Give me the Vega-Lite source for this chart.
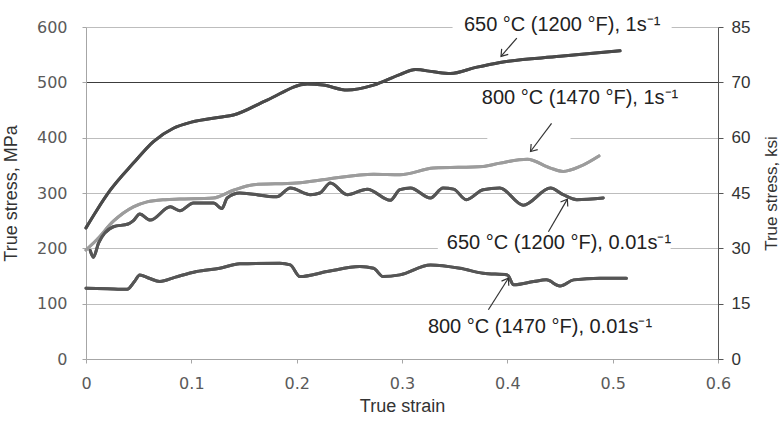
{
  "$schema": "https://vega.github.io/schema/vega-lite/v6.json",
  "width": 632,
  "height": 332,
  "autosize": "none",
  "padding": {"left": 86, "top": 27, "right": 66, "bottom": 64},
  "background": "white",
  "config": {
    "view": {"stroke": null},
    "axis": {
      "labelFont": "DejaVu Sans",
      "labelFontSize": 16,
      "labelColor": "#5a5a5a",
      "titleFont": "Liberation Sans",
      "titleFontSize": 18,
      "titleColor": "#333333",
      "titleFontWeight": "normal",
      "domainColor": "#a6a6a6",
      "tickColor": "#a6a6a6",
      "tickSize": 4,
      "gridColor": "#bdbdbd"
    }
  },
  "datasets": {
    "curves": [
      {"s": "650C_1", "x": 0, "y": 237}, {"s": "650C_1", "x": 0.01, "y": 268}, {"s": "650C_1", "x": 0.023, "y": 305}, {"s": "650C_1", "x": 0.045, "y": 354}, {"s": "650C_1", "x": 0.064, "y": 393}, {"s": "650C_1", "x": 0.083, "y": 417}, {"s": "650C_1", "x": 0.1, "y": 428}, {"s": "650C_1", "x": 0.127, "y": 437}, {"s": "650C_1", "x": 0.14, "y": 441}, {"s": "650C_1", "x": 0.172, "y": 468}, {"s": "650C_1", "x": 0.21, "y": 497}, {"s": "650C_1", "x": 0.225, "y": 495}, {"s": "650C_1", "x": 0.248, "y": 486}, {"s": "650C_1", "x": 0.273, "y": 495}, {"s": "650C_1", "x": 0.298, "y": 514}, {"s": "650C_1", "x": 0.313, "y": 523}, {"s": "650C_1", "x": 0.33, "y": 519}, {"s": "650C_1", "x": 0.346, "y": 516}, {"s": "650C_1", "x": 0.37, "y": 527}, {"s": "650C_1", "x": 0.393, "y": 536}, {"s": "650C_1", "x": 0.45, "y": 547}, {"s": "650C_1", "x": 0.507, "y": 557},
      {"s": "800C_1", "x": 0, "y": 197}, {"s": "800C_1", "x": 0.01, "y": 215}, {"s": "800C_1", "x": 0.026, "y": 249}, {"s": "800C_1", "x": 0.045, "y": 275}, {"s": "800C_1", "x": 0.058, "y": 284}, {"s": "800C_1", "x": 0.075, "y": 288}, {"s": "800C_1", "x": 0.089, "y": 289}, {"s": "800C_1", "x": 0.121, "y": 291}, {"s": "800C_1", "x": 0.14, "y": 305}, {"s": "800C_1", "x": 0.159, "y": 315}, {"s": "800C_1", "x": 0.2, "y": 318}, {"s": "800C_1", "x": 0.229, "y": 325}, {"s": "800C_1", "x": 0.273, "y": 334}, {"s": "800C_1", "x": 0.298, "y": 333}, {"s": "800C_1", "x": 0.33, "y": 345}, {"s": "800C_1", "x": 0.377, "y": 348}, {"s": "800C_1", "x": 0.393, "y": 354}, {"s": "800C_1", "x": 0.419, "y": 361}, {"s": "800C_1", "x": 0.441, "y": 345}, {"s": "800C_1", "x": 0.453, "y": 339}, {"s": "800C_1", "x": 0.469, "y": 348}, {"s": "800C_1", "x": 0.487, "y": 367},
      {"s": "650C_001", "x": 0.004, "y": 196}, {"s": "650C_001", "x": 0.007, "y": 184}, {"s": "650C_001", "x": 0.012, "y": 210}, {"s": "650C_001", "x": 0.026, "y": 239}, {"s": "650C_001", "x": 0.04, "y": 244}, {"s": "650C_001", "x": 0.045, "y": 250}, {"s": "650C_001", "x": 0.051, "y": 262}, {"s": "650C_001", "x": 0.061, "y": 251}, {"s": "650C_001", "x": 0.08, "y": 275}, {"s": "650C_001", "x": 0.089, "y": 268}, {"s": "650C_001", "x": 0.102, "y": 282}, {"s": "650C_001", "x": 0.121, "y": 282}, {"s": "650C_001", "x": 0.129, "y": 272}, {"s": "650C_001", "x": 0.134, "y": 291}, {"s": "650C_001", "x": 0.146, "y": 300}, {"s": "650C_001", "x": 0.181, "y": 293}, {"s": "650C_001", "x": 0.194, "y": 309}, {"s": "650C_001", "x": 0.213, "y": 297}, {"s": "650C_001", "x": 0.222, "y": 300}, {"s": "650C_001", "x": 0.232, "y": 318}, {"s": "650C_001", "x": 0.248, "y": 297}, {"s": "650C_001", "x": 0.267, "y": 307}, {"s": "650C_001", "x": 0.289, "y": 287}, {"s": "650C_001", "x": 0.298, "y": 306}, {"s": "650C_001", "x": 0.308, "y": 309}, {"s": "650C_001", "x": 0.327, "y": 291}, {"s": "650C_001", "x": 0.339, "y": 309}, {"s": "650C_001", "x": 0.349, "y": 307}, {"s": "650C_001", "x": 0.361, "y": 288}, {"s": "650C_001", "x": 0.377, "y": 306}, {"s": "650C_001", "x": 0.393, "y": 309}, {"s": "650C_001", "x": 0.415, "y": 278}, {"s": "650C_001", "x": 0.441, "y": 309}, {"s": "650C_001", "x": 0.453, "y": 297}, {"s": "650C_001", "x": 0.466, "y": 288}, {"s": "650C_001", "x": 0.491, "y": 291},
      {"s": "800C_001", "x": 0, "y": 128}, {"s": "800C_001", "x": 0.02, "y": 127}, {"s": "800C_001", "x": 0.039, "y": 126}, {"s": "800C_001", "x": 0.046, "y": 140}, {"s": "800C_001", "x": 0.051, "y": 152}, {"s": "800C_001", "x": 0.06, "y": 146}, {"s": "800C_001", "x": 0.07, "y": 140}, {"s": "800C_001", "x": 0.085, "y": 148}, {"s": "800C_001", "x": 0.105, "y": 158}, {"s": "800C_001", "x": 0.127, "y": 164}, {"s": "800C_001", "x": 0.146, "y": 172}, {"s": "800C_001", "x": 0.184, "y": 173}, {"s": "800C_001", "x": 0.194, "y": 170}, {"s": "800C_001", "x": 0.203, "y": 149}, {"s": "800C_001", "x": 0.229, "y": 158}, {"s": "800C_001", "x": 0.26, "y": 167}, {"s": "800C_001", "x": 0.273, "y": 164}, {"s": "800C_001", "x": 0.282, "y": 149}, {"s": "800C_001", "x": 0.298, "y": 152}, {"s": "800C_001", "x": 0.327, "y": 170}, {"s": "800C_001", "x": 0.355, "y": 164}, {"s": "800C_001", "x": 0.377, "y": 155}, {"s": "800C_001", "x": 0.4, "y": 152}, {"s": "800C_001", "x": 0.406, "y": 134}, {"s": "800C_001", "x": 0.425, "y": 140}, {"s": "800C_001", "x": 0.437, "y": 143}, {"s": "800C_001", "x": 0.45, "y": 132}, {"s": "800C_001", "x": 0.463, "y": 143}, {"s": "800C_001", "x": 0.488, "y": 146}, {"s": "800C_001", "x": 0.513, "y": 146}
    ],
    "labels": [
      {"t": "650 °C (1200 °F), 1s⁻¹", "x": 0.452, "y": 604},
      {"t": "800 °C (1470 °F), 1s⁻¹", "x": 0.469, "y": 472},
      {"t": "650 °C (1200 °F), 0.01s⁻¹", "x": 0.449, "y": 210},
      {"t": "800 °C (1470 °F), 0.01s⁻¹", "x": 0.431, "y": 58}
    ],
    "boxes": [
      {"x": 0.348, "xe": 0.556, "y": 592, "ye": 612},
      {"x": 0.381, "xe": 0.46, "y": 392, "ye": 408},
      {"x": 0.334, "xe": 0.555, "y": 192, "ye": 208}
    ],
    "arrows": [
      {"x": 0.409, "y": 580, "xe": 0.394, "ye": 547, "d": "dl"},
      {"x": 0.442, "y": 426, "xe": 0.422, "ye": 375, "d": "dl"},
      {"x": 0.439, "y": 230, "xe": 0.457, "ye": 289, "d": "ur"},
      {"x": 0.382, "y": 89, "xe": 0.401, "ye": 146, "d": "ur"}
    ]
  },
  "layer": [
    {
      "data": {"name": "curves"},
      "mark": {"type": "line", "strokeWidth": 3, "interpolate": "monotone", "strokeCap": "round", "strokeJoin": "round"},
      "encoding": {
        "x": {"field": "x", "type": "quantitative", "title": "True strain",
              "scale": {"domain": [0, 0.6], "nice": false, "zero": false},
              "axis": {"values": [0, 0.1, 0.2, 0.3, 0.4, 0.5, 0.6], "labelExpr": "datum.value == 0 ? '0' : format(datum.value, '.1f')", "grid": false, "labelPadding": 12, "titlePadding": 6, "labelFlush": false}},
        "y": {"field": "y", "type": "quantitative", "title": "True stress, MPa",
              "scale": {"domain": [0, 600], "nice": false},
              "axis": {"orient": "left", "values": [0, 100, 200, 300, 400, 500, 600], "grid": true,
                       "gridColor": {"condition": {"test": "datum.value === 500", "value": "#3c3c3c"}, "value": "#bdbdbd"},
                       "labelPadding": 15, "titlePadding": 16}},
        "color": {"field": "s", "type": "nominal", "legend": null,
                  "scale": {"domain": ["650C_1", "800C_1", "650C_001", "800C_001"], "range": ["#4a4a4a", "#9c9c9c", "#555555", "#555555"]}}
      }
    },
    {
      "data": {"name": "boxes"},
      "mark": {"type": "rect", "fill": "white"},
      "encoding": {
        "x": {"field": "x", "type": "quantitative", "title": "True strain"},
        "x2": {"field": "xe"},
        "y": {"field": "y", "type": "quantitative", "axis": null},
        "y2": {"field": "ye"}
      }
    },
    {
      "data": {"name": "curves"},
      "mark": {"type": "line", "strokeWidth": 3, "interpolate": "monotone", "strokeCap": "round", "strokeJoin": "round"},
      "encoding": {
        "x": {"field": "x", "type": "quantitative", "title": "True strain"},
        "y": {"field": "y", "type": "quantitative", "axis": null},
        "color": {"field": "s", "type": "nominal", "legend": null}
      }
    },
    {
      "data": {"name": "arrows"},
      "mark": {"type": "rule", "stroke": "#333333", "strokeWidth": 1.2},
      "encoding": {
        "x": {"field": "x", "type": "quantitative", "title": "True strain"},
        "x2": {"field": "xe"},
        "y": {"field": "y", "type": "quantitative", "title": "True stress, ksi",
              "axis": {"orient": "right", "values": [0, 100, 200, 300, 400, 500, 600], "grid": false,
                       "labelExpr": "datum.value == 0 ? '0' : datum.value == 100 ? '15' : datum.value == 200 ? '30' : datum.value == 300 ? '45' : datum.value == 400 ? '60' : datum.value == 500 ? '70' : '85'",
                       "labelFont": "Liberation Sans", "labelFontSize": 17, "labelColor": "#333333",
                       "domainColor": "#555555", "tickColor": "#555555", "tickSize": 5, "labelPadding": 8,
                       "titleAngle": 270, "titleBaseline": "top", "titleFontSize": 17, "titlePadding": 14}},
        "y2": {"field": "ye"}
      }
    },
    {
      "data": {"name": "arrows"},
      "transform": [{"filter": "datum.d == 'dl'"}],
      "mark": {"type": "point", "shape": "M-1,-0.7L0,0L-1,0.7", "filled": false, "stroke": "#333333", "strokeWidth": 1.2, "size": 150, "angle": 130, "opacity": 1},
      "encoding": {
        "x": {"field": "xe", "type": "quantitative", "title": "True strain"},
        "y": {"field": "ye", "type": "quantitative", "axis": null}
      }
    },
    {
      "data": {"name": "arrows"},
      "transform": [{"filter": "datum.d == 'ur'"}],
      "mark": {"type": "point", "shape": "M-1,-0.7L0,0L-1,0.7", "filled": false, "stroke": "#333333", "strokeWidth": 1.2, "size": 150, "angle": 302, "opacity": 1},
      "encoding": {
        "x": {"field": "xe", "type": "quantitative", "title": "True strain"},
        "y": {"field": "ye", "type": "quantitative", "axis": null}
      }
    },
    {
      "data": {"name": "labels"},
      "mark": {"type": "text", "font": "Liberation Sans", "fontSize": 20, "color": "#222222", "align": "center", "baseline": "middle"},
      "encoding": {
        "x": {"field": "x", "type": "quantitative", "title": "True strain"},
        "y": {"field": "y", "type": "quantitative", "axis": null},
        "text": {"field": "t", "type": "nominal"}
      }
    }
  ],
  "resolve": {"axis": {"y": "independent"}}
}
